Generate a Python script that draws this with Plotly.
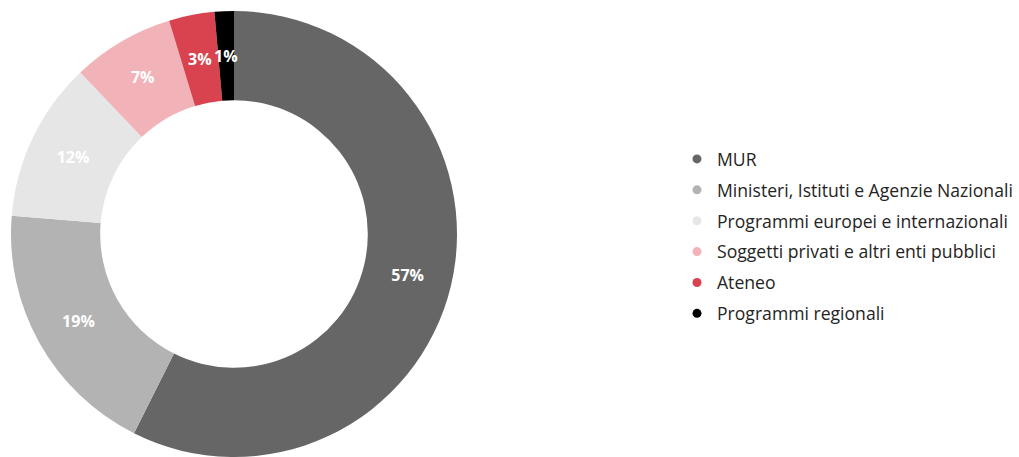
import math
import plotly.graph_objects as go

# Funding sources and their shares (%)
categories = [
    "MUR",
    "Ministeri, Istituti e Agenzie Nazionali",
    "Programmi europei e internazionali",
    "Soggetti privati e altri enti pubblici",
    "Ateneo",
    "Programmi regionali",
]
shares = [57.4, 18.9, 11.6, 7.4, 3.3, 1.4]
colors = ["#666666", "#b3b3b3", "#e6e6e6", "#f2b3b8", "#d9434f", "#000000"]

W, H = 1019, 457
HOLE = 0.6
DOM_X = [10 / W, 458 / W]
DOM_Y = [0, 446 / H]
LABEL_FONT = dict(family="Open Sans", size=16, color="white", weight="bold")

# Slices too thin for plotly's inside text get their label at the ring's mid-radius
small = [s / sum(shares) < 0.05 for s in shares]

fig = go.Figure()
fig.add_trace(go.Pie(
    labels=categories,
    values=shares,
    marker=dict(colors=colors, line=dict(width=0)),
    hole=HOLE,
    sort=False,
    direction="clockwise",
    rotation=0,
    texttemplate="%{percent:.0%}",
    textposition=["none" if sm else "inside" for sm in small],
    insidetextorientation="horizontal",
    textfont=LABEL_FONT,
    showlegend=False,
    domain=dict(x=DOM_X, y=DOM_Y),
))

# Ring geometry in pixels, derived from the pie domain
cx = (DOM_X[0] + DOM_X[1]) / 2 * W
cy = (DOM_Y[0] + DOM_Y[1]) / 2 * H
R = min((DOM_X[1] - DOM_X[0]) * W, (DOM_Y[1] - DOM_Y[0]) * H) / 2
r_mid = R * (1 + HOLE) / 2
total = sum(shares)
cum = 0.0
for s, sm in zip(shares, small):
    if sm:
        theta = 2 * math.pi * (cum + s / 2) / total
        px = cx + r_mid * math.sin(theta)
        py = cy + r_mid * math.cos(theta)
        fig.add_annotation(
            x=px / W, y=py / H, xref="paper", yref="paper",
            text=f"{round(100 * s / total)}%", showarrow=False,
            font=LABEL_FONT, xanchor="center", yanchor="middle",
        )
    cum += s

# Legend entries with round markers
for name, c in zip(categories, colors):
    fig.add_trace(go.Scatter(
        x=[None], y=[None], mode="markers", name=name, legendgroup=name,
        marker=dict(symbol="circle", size=9, color=c),
    ))

fig.update_layout(
    width=W, height=H,
    margin=dict(l=0, r=0, t=0, b=0),
    paper_bgcolor="white", plot_bgcolor="white",
    uniformtext=dict(minsize=16, mode="show"),
    xaxis=dict(visible=False), yaxis=dict(visible=False),
    legend=dict(
        x=677 / W, y=1 - 141 / H, xanchor="left", yanchor="top",
        font=dict(family="Open Sans", size=17.6, color="#252423"),
        tracegroupgap=5, itemwidth=30,
    ),
)

fig.write_html("out.html")
